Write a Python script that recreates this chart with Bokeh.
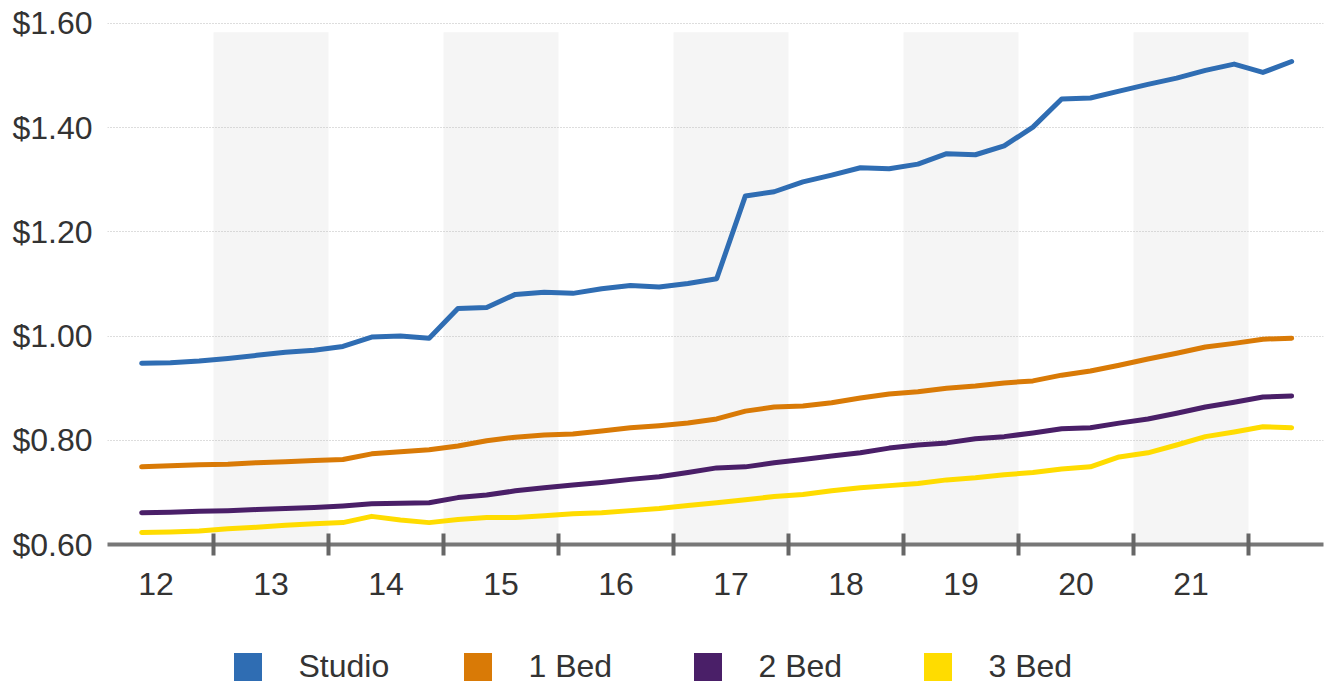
from bokeh.plotting import figure
from bokeh.layouts import column
from bokeh.models import (FixedTicker, NumeralTickFormatter, Legend, LegendItem,
                          Range1d)
from bokeh.embed import file_html
from bokeh.resources import INLINE

# ---- data -------------------------------------------------------------
quarters = ["2012Q2", "2012Q3", "2012Q4",
            "2013Q1", "2013Q2", "2013Q3", "2013Q4",
            "2014Q1", "2014Q2", "2014Q3", "2014Q4",
            "2015Q1", "2015Q2", "2015Q3", "2015Q4",
            "2016Q1", "2016Q2", "2016Q3", "2016Q4",
            "2017Q1", "2017Q2", "2017Q3", "2017Q4",
            "2018Q1", "2018Q2", "2018Q3", "2018Q4",
            "2019Q1", "2019Q2", "2019Q3", "2019Q4",
            "2020Q1", "2020Q2", "2020Q3", "2020Q4",
            "2021Q1", "2021Q2", "2021Q3", "2021Q4",
            "2022Q1", "2022Q2"]

studio = [0.948, 0.949, 0.952, 0.957, 0.963, 0.969, 0.973, 0.980, 0.998, 1.000,
          0.996, 1.053, 1.055, 1.080, 1.084, 1.082, 1.091, 1.097, 1.094, 1.101,
          1.110, 1.269, 1.277, 1.296, 1.309, 1.323, 1.321, 1.330, 1.350, 1.348,
          1.365, 1.401, 1.455, 1.457, 1.470, 1.483, 1.495, 1.510, 1.522, 1.506,
          1.527]
bed1 = [0.749, 0.751, 0.753, 0.754, 0.757, 0.759, 0.761, 0.763, 0.774, 0.778,
        0.782, 0.789, 0.799, 0.806, 0.810, 0.812, 0.818, 0.824, 0.828, 0.833,
        0.841, 0.856, 0.864, 0.866, 0.872, 0.881, 0.889, 0.893, 0.900, 0.904,
        0.910, 0.914, 0.925, 0.933, 0.944, 0.956, 0.967, 0.979, 0.986, 0.994,
        0.996]
bed2 = [0.661, 0.662, 0.664, 0.665, 0.667, 0.669, 0.671, 0.674, 0.678, 0.679,
        0.680, 0.690, 0.695, 0.703, 0.709, 0.714, 0.719, 0.725, 0.730, 0.738,
        0.747, 0.749, 0.757, 0.763, 0.770, 0.776, 0.785, 0.791, 0.795, 0.803,
        0.807, 0.814, 0.822, 0.824, 0.833, 0.841, 0.852, 0.864, 0.873, 0.883,
        0.885]
bed3 = [0.623, 0.624, 0.626, 0.630, 0.633, 0.637, 0.640, 0.642, 0.654, 0.647,
        0.642, 0.648, 0.652, 0.652, 0.655, 0.659, 0.661, 0.665, 0.669, 0.675,
        0.680, 0.686, 0.692, 0.696, 0.703, 0.709, 0.713, 0.717, 0.724, 0.728,
        0.734, 0.738, 0.745, 0.749, 0.768, 0.776, 0.791, 0.807, 0.816, 0.826,
        0.824]

series_names = ["Studio", "1 Bed", "2 Bed", "3 Bed"]
series_colors = ["#2f6db3", "#d97a06", "#4a1f68", "#ffdc00"]

year_starts = [2012, 2013, 2014, 2015, 2016, 2017, 2018, 2019, 2020, 2021]
year_labels = ["12", "13", "14", "15", "16", "17", "18", "19", "20", "21"]
shaded_years = [2013, 2015, 2017, 2019, 2021]
y_ticks = [0.6, 0.8, 1.0, 1.2, 1.4, 1.6]

# quarter midpoints on a decimal-year axis
x = [int(q[:4]) + (int(q[5]) - 0.5) / 4 for q in quarters]

FONT = "Liberation Sans"
TEXT = "#333333"
NAN = float("nan")

p = figure(width=1332, height=641,
           x_range=Range1d(2012.078, 2022.652), y_range=Range1d(0.6, 1.621),
           output_backend="svg", toolbar_location=None,
           min_border_left=107, min_border_right=9, min_border_top=12,
           min_border_bottom=97)
p.outline_line_color = None
p.background_fill_color = "white"

# alternating year bands
p.quad(left=shaded_years, right=[y + 1 for y in shaded_years],
       bottom=0.6, top=1.583, fill_color="#f5f5f5", line_color=None,
       level="image")

for name, vals, col in zip(series_names, [studio, bed1, bed2, bed3], series_colors):
    p.line(x, vals, line_color=col, line_width=5, line_join="round",
           line_cap="round")

# y axis
p.yaxis.ticker = FixedTicker(ticks=y_ticks)
p.yaxis.formatter = NumeralTickFormatter(format="$0.00")
p.yaxis.axis_line_color = None
p.yaxis.major_tick_line_color = None
p.yaxis.minor_tick_line_color = None
p.yaxis.major_label_standoff = 9
p.yaxis.major_label_text_font = FONT
p.yaxis.major_label_text_font_size = "32px"
p.yaxis.major_label_text_color = TEXT

# x axis: labels at year middles, ticks at year boundaries (minor ticks)
p.xaxis.ticker = FixedTicker(ticks=[y + 0.5 for y in year_starts],
                             minor_ticks=[y + 1 for y in year_starts])
p.xaxis.major_label_overrides = {y + 0.5: lab for y, lab in zip(year_starts, year_labels)}
p.xaxis.axis_line_color = "#777777"
p.xaxis.axis_line_width = 4
p.xaxis.major_tick_line_color = None
p.xaxis.major_tick_in = 0
p.xaxis.major_tick_out = 0
p.xaxis.minor_tick_line_color = "#666666"
p.xaxis.minor_tick_line_width = 4
p.xaxis.minor_tick_in = 11
p.xaxis.minor_tick_out = 11
p.xaxis.major_label_standoff = 17
p.xaxis.major_label_text_font = FONT
p.xaxis.major_label_text_font_size = "32px"
p.xaxis.major_label_text_color = TEXT

p.xgrid.visible = False
p.ygrid.ticker = FixedTicker(ticks=y_ticks)
p.ygrid.grid_line_color = "#bbbbbb"
p.ygrid.grid_line_width = 1
p.ygrid.grid_line_dash = "1 2"

# ---- legend strip ------------------------------------------------------
lg = figure(width=1332, height=44, x_range=Range1d(0, 1), y_range=Range1d(0, 1),
            output_backend="svg", toolbar_location=None,
            x_axis_type=None, y_axis_type=None,
            min_border_left=0, min_border_right=0, min_border_top=0,
            min_border_bottom=0)
lg.outline_line_color = None
lg.grid.visible = False

items = []
for name, col in zip(series_names, series_colors):
    r = lg.quad(left=[NAN], right=[NAN], top=[NAN], bottom=[NAN],
                fill_color=col, line_color=None)
    items.append(LegendItem(label=name, renderers=[r]))

legend = Legend(items=items, orientation="horizontal", location=(122.5, 0),
                glyph_width=35, glyph_height=35, label_standoff=34,
                spacing=70, label_width=91, padding=0, margin=0,
                label_text_font=FONT, label_text_font_size="32px",
                label_text_color=TEXT, border_line_color=None,
                background_fill_color=None)
lg.add_layout(legend, "center")

open("out.html", "w").write(file_html(column(p, lg, spacing=0), INLINE))
